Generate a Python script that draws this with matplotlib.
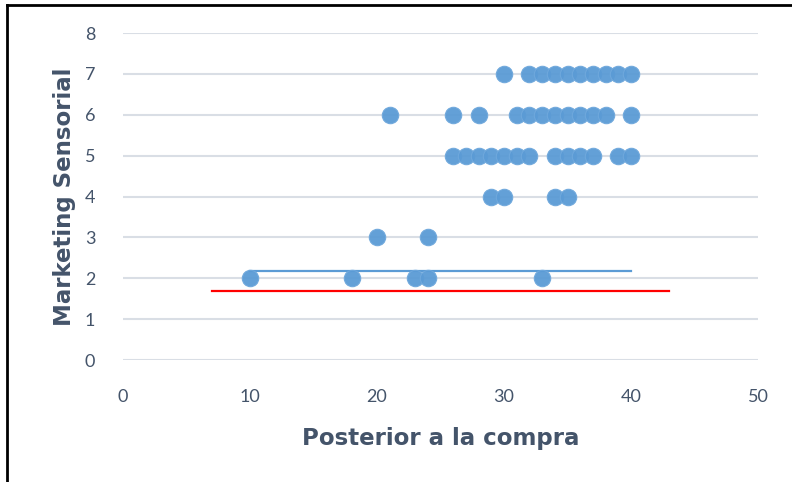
import matplotlib.pyplot as plt
from matplotlib.lines import Line2D

# puntuaciones por nivel de marketing sensorial
x_nivel_7 = [30, 32, 33, 34, 35, 36, 37, 38, 39, 40]
x_nivel_6 = [21, 26, 28, 31, 32, 33, 34, 35, 36, 37, 38, 40]
x_nivel_5 = [26, 27, 28, 29, 30, 31, 32, 34, 35, 36, 37, 39, 40]
x_nivel_4 = [29, 30, 34, 35]
x_nivel_3 = [20, 24]
x_nivel_2 = [10, 18, 23, 24, 33]

niveles = [7, 6, 5, 4, 3, 2]
grupos = [x_nivel_7, x_nivel_6, x_nivel_5, x_nivel_4, x_nivel_3, x_nivel_2]

# lineas de referencia horizontales
linea_azul_x = [10, 40]
linea_azul_y = [2.18, 2.18]
linea_roja_x = [7, 43]
linea_roja_y = [1.7, 1.7]

xs = []
ys = []
for nivel, grupo in zip(niveles, grupos):
    xs += grupo
    ys += [nivel] * len(grupo)

plt.rcParams["font.family"] = ["Lato", "DejaVu Sans"]

texto = "#44546A"
azul = "#5B9BD5"

fig = plt.figure(figsize=(7.92, 4.82), dpi=100)
ax = fig.add_axes([0.1553, 0.2531, 0.8018, 0.6784])

ax.set_xlim(0, 50)
ax.set_ylim(0, 8)
ax.set_xticks(range(0, 51, 10))
ax.set_yticks(range(0, 9))
ax.grid(axis="y", color="#D9DEE5", linewidth=1.5)
ax.set_axisbelow(True)
for s in ax.spines.values():
    s.set_visible(False)
ax.tick_params(length=0, labelsize=13, labelcolor=texto)
ax.tick_params(axis="y", pad=20)
ax.tick_params(axis="x", pad=21)

ax.scatter(xs, ys, s=140, color=azul, edgecolors="#6FA8DC", linewidths=0.8,
           alpha=0.95, zorder=3)
ax.plot(linea_azul_x, linea_azul_y, color="#5B9BD5", linewidth=1.6, zorder=2)
ax.plot(linea_roja_x, linea_roja_y, color="#FF0000", linewidth=1.6, zorder=2)

titulo = dict(fontsize=16.5, fontweight="bold", color=texto,
              family="DejaVu Sans")
ax.set_xlabel("Posterior a la compra", labelpad=16, **titulo)
ax.set_ylabel("Marketing Sensorial", labelpad=6, **titulo)

# marco del grafico (izquierda y arriba)
fig.add_artist(Line2D([0.009, 0.009], [0.0, 0.99], transform=fig.transFigure,
                      color="black", linewidth=2))
fig.add_artist(Line2D([0.009, 1.0], [0.99, 0.99], transform=fig.transFigure,
                      color="black", linewidth=2))

fig.savefig("out.png", dpi=100)
